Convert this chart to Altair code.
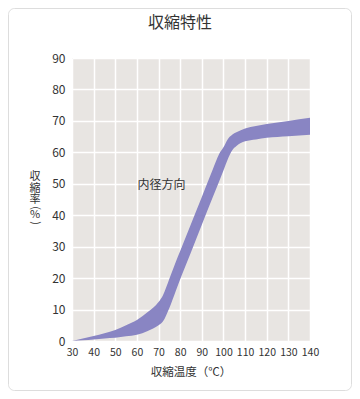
import altair as alt
import pandas as pd

temps = [30, 35, 40, 45, 50, 55, 60, 65, 70, 72, 75, 78, 80, 85, 90, 95, 98, 100, 102, 104, 106, 110, 115, 120, 130, 140]
upper = [0, 0.8, 1.6, 2.5, 3.5, 5.0, 6.7, 9.2, 12.4, 14.5, 19.8, 25.2, 28.6, 37.2, 45.8, 54.5, 59.5, 61.6, 64.2, 65.6, 66.4, 67.6, 68.4, 69.0, 70.0, 71.0]
lower = [0, 0.2, 0.5, 0.8, 1.0, 1.5, 2.0, 3.2, 5.0, 6.2, 10.5, 16.0, 19.6, 28.2, 37.0, 45.6, 50.7, 54.2, 57.8, 60.6, 62.0, 63.5, 64.1, 64.6, 65.1, 65.6]

x_ticks = [30, 40, 50, 60, 70, 80, 90, 100, 110, 120, 130, 140]
y_ticks = [0, 10, 20, 30, 40, 50, 60, 70, 80, 90]

title_text = "収縮特性"
x_title = "収縮温度（℃）"
y_title_chars = ["収", "縮", "率", "(", "%", ")"]
y_title_angles = [0, 0, 0, 90, 0, 90]
series_label = "内径方向"
label_x = [71.4]
label_y = [49.5]

FONT = "Noto Sans CJK JP"
W, H = 238, 283

df = pd.DataFrame({"t": temps, "hi": upper, "lo": lower})

xs = alt.Scale(domain=[30, 140], nice=False, zero=False)
ys = alt.Scale(domain=[0, 90], nice=False)

x_axis = alt.Axis(values=x_ticks, ticks=False, domain=False, labelPadding=6,
                  labelOverlap=False, labelFlush=False,
                  gridColor="white", gridWidth=1.5, labelFontSize=10.5,
                  labelColor="#333", labelFont=FONT)
y_axis = alt.Axis(values=y_ticks, ticks=False, domain=False, labelPadding=7,
                  labelOverlap=False, labelFlush=False,
                  gridColor="white", gridWidth=1.5, labelFontSize=12,
                  labelColor="#333", labelFont=FONT)

area = alt.Chart(df).mark_area(color="#8985c3", interpolate="monotone", opacity=1).encode(
    x=alt.X("t:Q", scale=xs, title=None, axis=x_axis),
    y=alt.Y("hi:Q", scale=ys, title=None, axis=y_axis),
    y2="lo:Q",
)

lab_df = pd.DataFrame({"x": label_x, "y": label_y, "text": [series_label]})
lab = alt.Chart(lab_df).mark_text(font=FONT, fontSize=12, color="#333").encode(
    x=alt.X("x:Q", scale=xs, title=None, axis=x_axis),
    y=alt.Y("y:Q", scale=ys, title=None, axis=y_axis),
    text="text:N",
)

title_df = pd.DataFrame({"text": [title_text]})
title = alt.Chart(title_df).mark_text(font=FONT, fontSize=16, color="#333", baseline="middle").encode(
    x=alt.value(108), y=alt.value(-35), text="text:N"
)

xt_df = pd.DataFrame({"text": [x_title]})
xt = alt.Chart(xt_df).mark_text(font=FONT, fontSize=11.5, color="#333", baseline="middle").encode(
    x=alt.value(W / 2), y=alt.value(315), text="text:N"
)

# vertical axis title, one glyph per layer
char_offsets = [119, 130.5, 142, 150, 157, 165]
yt_layers = []
for ch, yy, ang in zip(y_title_chars, char_offsets, y_title_angles):
    cdf = pd.DataFrame({"text": [ch]})
    yt_layers.append(
        alt.Chart(cdf).mark_text(font=FONT, fontSize=11, color="#333", baseline="middle",
                                 angle=ang).encode(
            x=alt.value(-37), y=alt.value(yy), text="text:N"
        )
    )

border = alt.Chart(title_df).mark_rect(fill="transparent", stroke="#dddddd", strokeWidth=1,
                                       cornerRadius=6).encode(
    x=alt.value(-63.5), x2=alt.value(W + 41.5), y=alt.value(-49.5), y2=alt.value(H + 49.5)
)

chart = alt.layer(border, area, lab, title, xt, *yt_layers).properties(
    width=W, height=H,
    autosize=alt.AutoSizeParams(type="none"),
    padding={"left": 64, "top": 50, "right": 42, "bottom": 50},
    background="white",
).configure_view(fill="#e8e5e2", strokeWidth=0)

chart.save("out.html", embed_options={"renderer": "svg", "actions": False})
